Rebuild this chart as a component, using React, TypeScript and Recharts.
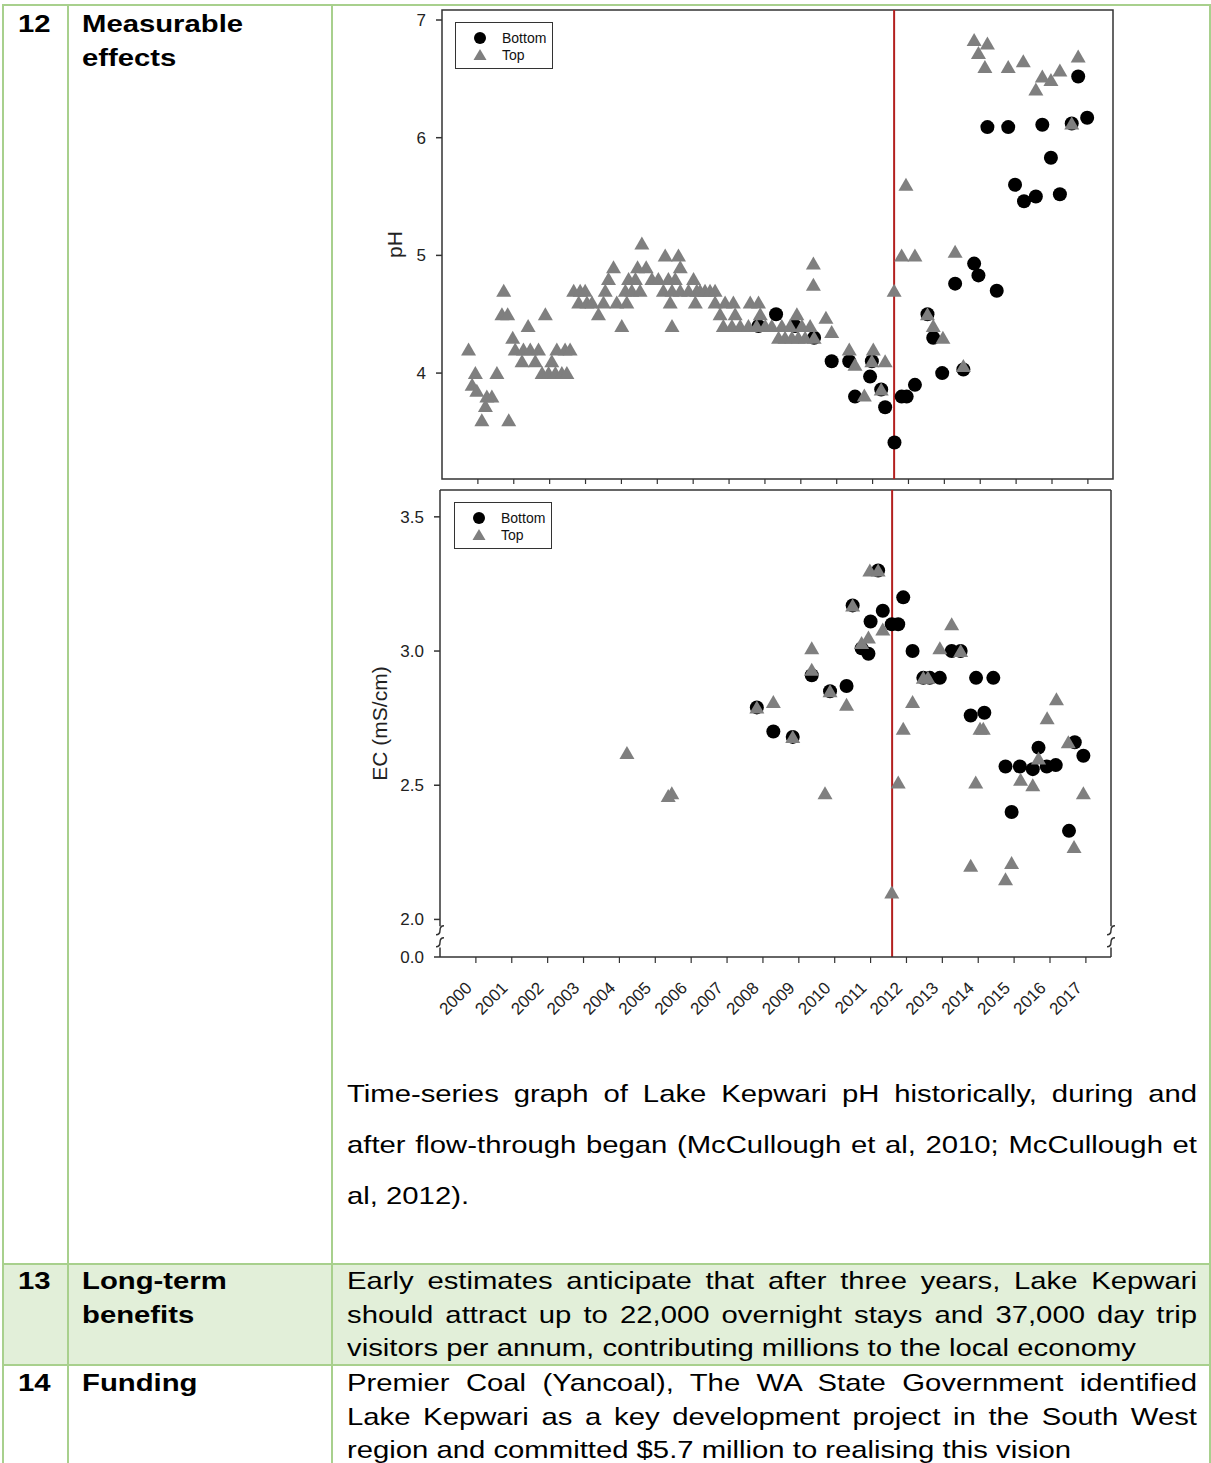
import React from 'react';
import { ScatterChart, Scatter, XAxis, YAxis, ReferenceLine, ReferenceArea, ReferenceDot } from 'recharts';

type Pt = { x: number; y: number };

const yearTicks = [2000, 2001, 2002, 2003, 2004, 2005, 2006, 2007, 2008, 2009, 2010, 2011, 2012, 2013, 2014, 2015, 2016, 2017];
const phTicks = [4, 5, 6, 7];
const ecTicks = [1.86, 2.0, 2.5, 3.0, 3.5];
const flowThroughStart = 2011.6;
const xDomain: [number, number] = [1999, 2017.7];
const phDomain: [number, number] = [3.1, 7.085];
const ecDomain: [number, number] = [1.86, 3.6];
const ecBreak = 1.935;

// pH, bottom samples (circles)
const phBottom: Pt[] = [
    { x: 2007.82, y: 4.4 }, { x: 2008.31, y: 4.5 }, { x: 2008.84, y: 4.4 }, { x: 2009.37, y: 4.3 },
    { x: 2009.86, y: 4.1 }, { x: 2010.35, y: 4.1 }, { x: 2010.51, y: 3.8 }, { x: 2010.93, y: 3.97 },
    { x: 2010.98, y: 4.1 }, { x: 2011.24, y: 3.86 }, { x: 2011.35, y: 3.71 }, { x: 2011.61, y: 3.41 },
    { x: 2011.81, y: 3.8 }, { x: 2011.95, y: 3.8 }, { x: 2012.18, y: 3.9 }, { x: 2012.53, y: 4.5 },
    { x: 2012.69, y: 4.3 }, { x: 2012.94, y: 4.0 }, { x: 2013.3, y: 4.76 }, { x: 2013.53, y: 4.03 },
    { x: 2013.83, y: 4.93 }, { x: 2013.95, y: 4.83 }, { x: 2014.46, y: 4.7 }, { x: 2014.2, y: 6.09 },
    { x: 2014.78, y: 6.09 }, { x: 2014.97, y: 5.6 }, { x: 2015.22, y: 5.46 }, { x: 2015.55, y: 5.5 },
    { x: 2015.73, y: 6.11 }, { x: 2015.97, y: 5.83 }, { x: 2016.22, y: 5.52 }, { x: 2016.55, y: 6.12 },
    { x: 2016.73, y: 6.52 }, { x: 2016.98, y: 6.17 },
];

// pH, top samples (triangles)
const phTop: Pt[] = [
    { x: 1999.74, y: 4.2 }, { x: 1999.93, y: 4.0 }, { x: 1999.84, y: 3.9 }, { x: 1999.97, y: 3.85 },
    { x: 2000.25, y: 3.8 }, { x: 2000.39, y: 3.8 }, { x: 2000.21, y: 3.72 }, { x: 2000.11, y: 3.6 },
    { x: 2000.86, y: 3.6 }, { x: 2000.53, y: 4.0 }, { x: 2000.72, y: 4.7 }, { x: 2000.67, y: 4.5 },
    { x: 2000.83, y: 4.5 }, { x: 2001.4, y: 4.4 }, { x: 2000.97, y: 4.3 }, { x: 2001.04, y: 4.2 },
    { x: 2001.27, y: 4.2 }, { x: 2001.46, y: 4.2 }, { x: 2001.69, y: 4.2 }, { x: 2002.2, y: 4.2 },
    { x: 2002.43, y: 4.2 }, { x: 2002.57, y: 4.2 }, { x: 2001.23, y: 4.1 }, { x: 2001.6, y: 4.1 },
    { x: 2002.06, y: 4.1 }, { x: 2001.79, y: 4.0 }, { x: 2001.97, y: 4.0 }, { x: 2002.16, y: 4.0 },
    { x: 2002.34, y: 4.0 }, { x: 2002.48, y: 4.0 }, { x: 2001.88, y: 4.5 }, { x: 2002.67, y: 4.7 },
    { x: 2002.85, y: 4.7 }, { x: 2002.99, y: 4.7 }, { x: 2002.81, y: 4.6 }, { x: 2003.04, y: 4.6 },
    { x: 2003.18, y: 4.6 }, { x: 2003.5, y: 4.6 }, { x: 2003.87, y: 4.6 }, { x: 2004.15, y: 4.6 },
    { x: 2005.36, y: 4.6 }, { x: 2006.06, y: 4.6 }, { x: 2003.36, y: 4.5 }, { x: 2004.01, y: 4.4 },
    { x: 2005.41, y: 4.4 }, { x: 2004.57, y: 5.1 }, { x: 2005.22, y: 5.0 }, { x: 2005.59, y: 5.0 },
    { x: 2003.78, y: 4.9 }, { x: 2004.45, y: 4.9 }, { x: 2004.69, y: 4.9 }, { x: 2005.64, y: 4.9 },
    { x: 2003.64, y: 4.8 }, { x: 2004.2, y: 4.8 }, { x: 2004.39, y: 4.8 }, { x: 2004.85, y: 4.8 },
    { x: 2005.03, y: 4.8 }, { x: 2005.31, y: 4.8 }, { x: 2005.5, y: 4.8 }, { x: 2006.01, y: 4.8 },
    { x: 2003.55, y: 4.7 }, { x: 2004.11, y: 4.7 }, { x: 2004.29, y: 4.7 }, { x: 2004.52, y: 4.7 },
    { x: 2005.17, y: 4.7 }, { x: 2005.41, y: 4.7 }, { x: 2005.64, y: 4.7 }, { x: 2005.87, y: 4.7 },
    { x: 2006.1, y: 4.7 }, { x: 2006.19, y: 4.7 }, { x: 2006.33, y: 4.7 }, { x: 2006.47, y: 4.7 },
    { x: 2006.61, y: 4.7 }, { x: 2006.61, y: 4.6 }, { x: 2006.89, y: 4.6 }, { x: 2007.12, y: 4.6 },
    { x: 2007.59, y: 4.6 }, { x: 2007.82, y: 4.6 }, { x: 2006.75, y: 4.5 }, { x: 2007.17, y: 4.5 },
    { x: 2007.87, y: 4.5 }, { x: 2008.89, y: 4.5 }, { x: 2006.84, y: 4.4 }, { x: 2007.08, y: 4.4 },
    { x: 2007.31, y: 4.4 }, { x: 2007.54, y: 4.4 }, { x: 2007.77, y: 4.4 }, { x: 2008.01, y: 4.4 },
    { x: 2008.19, y: 4.4 }, { x: 2008.47, y: 4.4 }, { x: 2008.7, y: 4.4 }, { x: 2009.03, y: 4.4 },
    { x: 2009.26, y: 4.4 }, { x: 2008.38, y: 4.3 }, { x: 2008.56, y: 4.3 }, { x: 2008.75, y: 4.3 },
    { x: 2008.93, y: 4.3 }, { x: 2009.12, y: 4.3 }, { x: 2009.35, y: 4.93 }, { x: 2009.35, y: 4.75 },
    { x: 2009.37, y: 4.3 }, { x: 2009.7, y: 4.47 }, { x: 2009.86, y: 4.35 }, { x: 2010.35, y: 4.2 },
    { x: 2010.51, y: 4.07 }, { x: 2011.02, y: 4.2 }, { x: 2010.98, y: 4.1 }, { x: 2011.35, y: 4.1 },
    { x: 2010.77, y: 3.81 }, { x: 2011.24, y: 3.86 }, { x: 2011.6, y: 4.7 }, { x: 2011.81, y: 5.0 },
    { x: 2012.18, y: 5.0 }, { x: 2011.93, y: 5.6 }, { x: 2012.53, y: 4.5 }, { x: 2012.69, y: 4.4 },
    { x: 2012.96, y: 4.3 }, { x: 2013.3, y: 5.03 }, { x: 2013.53, y: 4.06 }, { x: 2013.83, y: 6.83 },
    { x: 2014.2, y: 6.8 }, { x: 2013.95, y: 6.72 }, { x: 2014.13, y: 6.6 }, { x: 2014.78, y: 6.6 },
    { x: 2015.2, y: 6.65 }, { x: 2015.73, y: 6.52 }, { x: 2015.97, y: 6.49 }, { x: 2016.22, y: 6.57 },
    { x: 2015.55, y: 6.41 }, { x: 2016.73, y: 6.69 }, { x: 2016.55, y: 6.12 },
];

// EC, bottom samples
const ecBottom: Pt[] = [
    { x: 2007.83, y: 2.79 }, { x: 2008.29, y: 2.7 }, { x: 2008.83, y: 2.68 }, { x: 2009.36, y: 2.91 },
    { x: 2009.87, y: 2.85 }, { x: 2010.33, y: 2.87 }, { x: 2010.5, y: 3.17 }, { x: 2010.75, y: 3.01 },
    { x: 2010.94, y: 2.99 }, { x: 2011.0, y: 3.11 }, { x: 2011.21, y: 3.3 }, { x: 2011.34, y: 3.15 },
    { x: 2011.59, y: 3.1 }, { x: 2011.77, y: 3.1 }, { x: 2011.91, y: 3.2 }, { x: 2012.17, y: 3.0 },
    { x: 2012.47, y: 2.9 }, { x: 2012.65, y: 2.9 }, { x: 2012.93, y: 2.9 }, { x: 2013.26, y: 3.0 },
    { x: 2013.51, y: 3.0 }, { x: 2013.94, y: 2.9 }, { x: 2014.42, y: 2.9 }, { x: 2013.79, y: 2.76 },
    { x: 2014.17, y: 2.77 }, { x: 2014.93, y: 2.4 }, { x: 2014.76, y: 2.57 }, { x: 2015.16, y: 2.57 },
    { x: 2015.52, y: 2.56 }, { x: 2015.91, y: 2.57 }, { x: 2016.16, y: 2.575 }, { x: 2015.68, y: 2.64 },
    { x: 2016.69, y: 2.66 }, { x: 2016.93, y: 2.61 }, { x: 2016.53, y: 2.33 },
];

// EC, top samples
const ecTop: Pt[] = [
    { x: 2004.21, y: 2.62 }, { x: 2005.36, y: 2.46 }, { x: 2005.46, y: 2.47 }, { x: 2007.83, y: 2.79 },
    { x: 2008.29, y: 2.81 }, { x: 2008.83, y: 2.68 }, { x: 2009.36, y: 3.01 }, { x: 2009.36, y: 2.93 },
    { x: 2009.73, y: 2.47 }, { x: 2009.87, y: 2.85 }, { x: 2010.33, y: 2.8 }, { x: 2010.5, y: 3.17 },
    { x: 2010.75, y: 3.03 }, { x: 2010.94, y: 3.05 }, { x: 2010.98, y: 3.3 }, { x: 2011.21, y: 3.3 },
    { x: 2011.34, y: 3.08 }, { x: 2011.59, y: 2.1 }, { x: 2011.77, y: 2.51 }, { x: 2011.91, y: 2.71 },
    { x: 2012.17, y: 2.81 }, { x: 2012.47, y: 2.9 }, { x: 2012.6, y: 2.9 }, { x: 2012.93, y: 3.01 },
    { x: 2013.26, y: 3.1 }, { x: 2013.51, y: 3.0 }, { x: 2014.05, y: 2.71 }, { x: 2014.14, y: 2.71 },
    { x: 2013.93, y: 2.51 }, { x: 2013.79, y: 2.2 }, { x: 2014.93, y: 2.21 }, { x: 2014.76, y: 2.15 },
    { x: 2015.18, y: 2.52 }, { x: 2015.52, y: 2.5 }, { x: 2015.68, y: 2.6 }, { x: 2015.92, y: 2.75 },
    { x: 2016.18, y: 2.82 }, { x: 2016.51, y: 2.66 }, { x: 2016.93, y: 2.47 }, { x: 2016.67, y: 2.27 },
];

const GREEN = '#a8d08d';
const GREEN_BG = '#e2efd9';
const AXIS = '#333333';
const GREY = '#7f7f7f';
const RED = '#b3201f';
const FONT = "'Liberation Sans', Arial, sans-serif";
// the page text in the reference is stretched sideways a little
const STRETCH = 1.2;

const Dot = (props: any) => <circle cx={props.cx} cy={props.cy} r={7} fill="#000" />;

const Tri = (props: any) => {
    const { cx, cy } = props;
    return <polygon points={`${cx},${cy - 7} ${cx + 7.5},${cy + 6} ${cx - 7.5},${cy + 6}`} fill={GREY} />;
};

const YearTick = ({ x, y, payload }: any) => {
    const ax = x - 3;
    const ay = y + 24;
    return (
        <text x={ax} y={ay} transform={`rotate(-45, ${ax}, ${ay})`} textAnchor="end" fontSize={17} fill="#222" fontFamily={FONT}>
            {payload.value}
        </text>
    );
};

// the little squiggles where the EC axis is broken
const AxisBreak = ({ cx, cy }: any) => {
    const seg = (t: number, b: number) => `M${cx + 4},${t} Q${cx},${t} ${cx},${(t + b) / 2} Q${cx},${b} ${cx - 4},${b}`;
    return (
        <g fill="none" stroke={AXIS} strokeWidth={1.5}>
            <path d={seg(cy - 11, cy - 2)} />
            <path d={seg(cy + 1, cy + 10)} />
        </g>
    );
};

const LegendBox = ({ left, top }: { left: number; top: number }) => (
    <div
        style={{
            position: 'absolute',
            left,
            top,
            width: 96,
            height: 45,
            border: `1.5px solid ${AXIS}`,
            background: '#fff',
            fontFamily: FONT,
            fontSize: 14,
            color: '#111',
        }}
    >
        <div style={{ position: 'absolute', left: 16, top: 6, display: 'flex', alignItems: 'center', height: 17 }}>
            <svg width={16} height={16}>
                <circle cx={8} cy={8} r={6} fill="#000" />
            </svg>
            <span style={{ marginLeft: 14 }}>Bottom</span>
        </div>
        <div style={{ position: 'absolute', left: 16, top: 23, display: 'flex', alignItems: 'center', height: 17 }}>
            <svg width={16} height={16}>
                <polygon points="8,2 14.5,13 1.5,13" fill={GREY} />
            </svg>
            <span style={{ marginLeft: 14 }}>Top</span>
        </div>
    </div>
);

function PhChart() {
    return (
        <div style={{ position: 'absolute', left: 342, top: 0 }}>
            <ScatterChart width={780} height={490} margin={{ top: 10, right: 9, bottom: 10, left: 40 }}>
                <XAxis
                    type="number"
                    dataKey="x"
                    domain={xDomain}
                    ticks={yearTicks}
                    allowDataOverflow
                    height={1}
                    axisLine={false}
                    tickLine={{ stroke: AXIS, strokeWidth: 1.2 }}
                    tickSize={5}
                    tickFormatter={() => ''}
                />
                <YAxis
                    type="number"
                    dataKey="y"
                    domain={phDomain}
                    ticks={phTicks}
                    allowDataOverflow
                    width={60}
                    axisLine={false}
                    tickLine={{ stroke: AXIS, strokeWidth: 1.5 }}
                    tickSize={6}
                    tickMargin={10}
                    tick={{ fill: '#222', fontSize: 17, fontFamily: FONT }}
                    label={{ value: 'pH', angle: -90, position: 'insideLeft', offset: 13, style: { textAnchor: 'middle', fontSize: 21, fill: '#222', fontFamily: FONT } }}
                />
                <ReferenceArea x1={xDomain[0]} x2={xDomain[1]} y1={phDomain[0]} y2={phDomain[1]} fill="none" stroke={AXIS} strokeWidth={1.5} ifOverflow="visible" />
                <Scatter name="Bottom" data={phBottom} shape={Dot} isAnimationActive={false} />
                <Scatter name="Top" data={phTop} shape={Tri} isAnimationActive={false} />
                <ReferenceLine x={flowThroughStart} stroke={RED} strokeWidth={2} />
            </ScatterChart>
            <LegendBox left={113} top={22} />
        </div>
    );
}

function EcChart() {
    const [x0, x1] = xDomain;
    const [y0, y1] = ecDomain;
    return (
        <div style={{ position: 'absolute', left: 340, top: 480 }}>
            <ScatterChart width={780} height={560} margin={{ top: 10, right: 9, bottom: 13, left: 40 }}>
                <XAxis
                    type="number"
                    dataKey="x"
                    domain={xDomain}
                    ticks={yearTicks}
                    allowDataOverflow
                    height={70}
                    axisLine={{ stroke: AXIS, strokeWidth: 1.5 }}
                    tickLine={{ stroke: AXIS, strokeWidth: 1.2 }}
                    tickSize={6}
                    tick={<YearTick />}
                    interval={0}
                />
                <YAxis
                    type="number"
                    dataKey="y"
                    domain={ecDomain}
                    ticks={ecTicks}
                    allowDataOverflow
                    width={60}
                    axisLine={false}
                    tickLine={{ stroke: AXIS, strokeWidth: 1.5 }}
                    tickSize={6}
                    tickMargin={10}
                    tick={{ fill: '#222', fontSize: 17, fontFamily: FONT }}
                    tickFormatter={(v: number) => (v < 1.9 ? '0.0' : v.toFixed(1))}
                    label={{ value: 'EC (mS/cm)', angle: -90, position: 'insideLeft', offset: 0, style: { textAnchor: 'middle', fontSize: 21, fill: '#222', fontFamily: FONT } }}
                />
                <ReferenceLine segment={[{ x: x0, y: y1 }, { x: x1, y: y1 }]} stroke={AXIS} strokeWidth={1.5} ifOverflow="visible" />
                <ReferenceLine segment={[{ x: x0, y: 1.975 }, { x: x0, y: y1 }]} stroke={AXIS} strokeWidth={1.5} ifOverflow="visible" />
                <ReferenceLine segment={[{ x: x1, y: 1.975 }, { x: x1, y: y1 }]} stroke={AXIS} strokeWidth={1.5} ifOverflow="visible" />
                <ReferenceLine segment={[{ x: x0, y: y0 }, { x: x0, y: 1.895 }]} stroke={AXIS} strokeWidth={1.5} ifOverflow="visible" />
                <ReferenceLine segment={[{ x: x1, y: y0 }, { x: x1, y: 1.895 }]} stroke={AXIS} strokeWidth={1.5} ifOverflow="visible" />
                <ReferenceDot x={x0} y={ecBreak} r={0} shape={AxisBreak} ifOverflow="visible" />
                <ReferenceDot x={x1} y={ecBreak} r={0} shape={AxisBreak} ifOverflow="visible" />
                <Scatter name="Bottom" data={ecBottom} shape={Dot} isAnimationActive={false} />
                <Scatter name="Top" data={ecTop} shape={Tri} isAnimationActive={false} />
                <ReferenceLine x={flowThroughStart} stroke={RED} strokeWidth={2} />
            </ScatterChart>
            <LegendBox left={114} top={22} />
        </div>
    );
}

const Line = ({ x, y, w, h }: { x: number; y: number; w: number; h: number }) => (
    <div style={{ position: 'absolute', left: x, top: y, width: w, height: h, background: GREEN }} />
);

const TextBlock = ({ left, top, lineHeight, lines, bold, width }: any) => (
    <div
        style={{
            position: 'absolute',
            left,
            top,
            width: width ? width / STRETCH : undefined,
            transform: `scaleX(${STRETCH})`,
            transformOrigin: 'left top',
            fontFamily: FONT,
            fontSize: 24.4,
            fontWeight: bold ? 700 : 400,
            lineHeight: `${lineHeight}px`,
            color: '#000',
        }}
    >
        {lines.map((t: string, i: number) => (
            <div
                key={i}
                style={{
                    whiteSpace: 'nowrap',
                    textAlign: width && i < lines.length - 1 ? 'justify' : 'left',
                    textAlignLast: width && i < lines.length - 1 ? 'justify' : 'left',
                }}
            >
                {t}
            </div>
        ))}
    </div>
);

export default function App() {
    return (
        <div style={{ position: 'absolute', left: 0, top: 0, width: 1211, height: 1463, overflow: 'hidden', background: '#fff' }}>
            <div style={{ position: 'absolute', left: 2, top: 1264, width: 1209, height: 101, background: GREEN_BG }} />
            <Line x={2} y={4} w={1209} h={2} />
            <Line x={2} y={1263} w={1209} h={2} />
            <Line x={2} y={1364} w={1209} h={2} />
            <Line x={2} y={4} w={2} h={1459} />
            <Line x={67} y={4} w={2} h={1459} />
            <Line x={331} y={4} w={2} h={1459} />
            <Line x={1209} y={4} w={2} h={1459} />

            <TextBlock left={18} top={7} lineHeight={34} lines={['12']} bold />
            <TextBlock left={82} top={7} lineHeight={34} lines={['Measurable', 'effects']} bold />

            <PhChart />
            <EcChart />

            <TextBlock
                left={347}
                top={1068}
                width={850}
                lineHeight={51}
                lines={[
                    'Time-series graph of Lake Kepwari pH historically, during and',
                    'after flow-through began (McCullough et al, 2010; McCullough et',
                    'al, 2012).',
                ]}
            />

            <TextBlock left={18} top={1264} lineHeight={33.5} lines={['13']} bold />
            <TextBlock left={82} top={1264} lineHeight={33.5} lines={['Long-term', 'benefits']} bold />
            <TextBlock
                left={347}
                top={1264}
                width={850}
                lineHeight={33.5}
                lines={[
                    'Early estimates anticipate that after three years, Lake Kepwari',
                    'should attract up to 22,000 overnight stays and 37,000 day trip',
                    'visitors per annum, contributing millions to the local economy',
                ]}
            />

            <TextBlock left={18} top={1366} lineHeight={33.5} lines={['14']} bold />
            <TextBlock left={82} top={1366} lineHeight={33.5} lines={['Funding']} bold />
            <TextBlock
                left={347}
                top={1366}
                width={850}
                lineHeight={33.5}
                lines={[
                    'Premier Coal (Yancoal), The WA State Government identified',
                    'Lake Kepwari as a key development project in the South West',
                    'region and committed $5.7 million to realising this vision',
                ]}
            />
        </div>
    );
}
